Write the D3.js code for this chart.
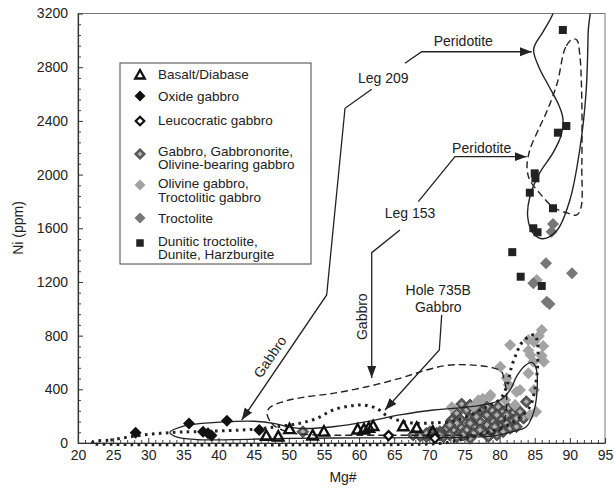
<!DOCTYPE html>
<html><head><meta charset="utf-8">
<script src="https://cdn.jsdelivr.net/npm/d3@7"></script>
<style>
body{margin:0;background:#fff}
text{font-family:"Liberation Sans",Arial,Helvetica,sans-serif;fill:#222}
</style></head>
<body><svg id="c" width="614" height="488"></svg>
<script>
// ---------- data ----------
const xTicks=[20,25,30,35,40,45,50,55,60,65,70,75,80,85,90,95];
const yTicks=[0,400,800,1200,1600,2000,2400,2800,3200];
const xLabel="Mg#", yLabel="Ni (ppm)";

const basalt=[[46.8,52],[48.5,47],[50.1,102],[53.4,55],[55.0,84],[59.8,100],[60.7,100],[61.4,112],[62.0,125],[66.3,124],[68.2,112],[70.5,84]];
const oxide=[[28.2,77],[35.8,146],[41.2,166],[37.8,84],[38.5,72],[39.0,55],[45.8,97]];
const leuco=[[64.2,55],[70.8,35]];
const gabbro=[[74.6,290],[75.3,246],[73.9,221],[73.2,171],[74.4,176],[75.8,184],[77.0,233],[77.7,258],[78.2,209],[78.9,246],
[79.8,270],[80.5,233],[81.2,258],[81.9,221],[82.9,233],[80.1,184],[79.1,159],[78.2,134],[77.2,159],[76.3,121],
[75.3,97],[74.4,121],[73.4,97],[72.5,109],[71.5,84],[72.0,47],[71.0,72],[70.1,84],[69.6,47],[74.8,60],
[76.3,72],[77.7,84],[78.9,97],[80.1,121],[81.0,147],[81.9,171],[81.5,109],[80.5,84],[79.6,60],[78.4,47],
[82.4,121],[83.4,184],[83.8,308],[73.9,147],[72.9,134],[75.8,147],[76.7,196],[79.6,209],[81.0,209],[77.2,97],
[73.9,47],[72.9,60],[75.8,35],[79.3,121],[82.4,184],[78.2,270],[75.8,283],[76.7,270],[67.7,60],[68.7,52],
[69.6,72],[71.5,60],[52.0,84]];
const olivineGabbro=[[81.5,730],[84.1,767],[85.6,797],[86.0,842],[86.2,723],[84.9,755],[84.4,656],[84.8,606],[86.3,606],[86.0,650],
[80.1,568],[81.0,482],[84.1,519],[81.3,432],[82.9,395],[82.4,382],[84.9,395],[78.7,358],[77.6,330],[77.0,318],
[73.2,266],[84.3,209],[85.2,233],[80.8,320],[82.2,283],[76.3,270],[85.3,1214],[84.1,690],[78.6,345],[76.5,283]];
const troctolite=[[87.6,1632],[87.4,1574],[86.6,1339],[90.3,1264],[84.8,1190],[86.7,1053],[87.1,1036]];
const dunite=[[89.0,3077],[89.5,2362],[88.3,2312],[85.0,2009],[85.1,1972],[84.3,1865],[87.6,1749],[84.8,1600],[85.4,1570],[81.8,1422],[83.0,1239],[86.0,1170]];

// field outlines (data units)
const leg209Peridotite=[[88.5,3400],[87.6,3200],[86.2,3065],[84.85,2935],[85.6,2800],[87.0,2660],[88.4,2520],[89.0,2420],[88.8,2300],[87.6,2161],[85.7,2012],[84.3,1833],[84.0,1684],[84.75,1565],[86.2,1522],[88.2,1587],[90.0,1810],[91.4,2183],[92.3,2608],[92.6,3054],[92.7,3400]];
const leg153Peridotite=[[90.4,3010],[89.4,2950],[88.2,2682],[86.8,2480],[85.7,2354],[84.3,2183],[83.9,2056],[84.3,1959],[85.7,1862],[87.6,1758],[89.6,1714],[91.0,1699],[91.6,1758],[91.7,2056],[91.7,2555],[91.4,2900],[91.0,3002]];
const hole735B=[[33.1,80],[35,125],[38,148],[42,160],[45,162],[48,145],[50.5,115],[52.5,108],[56.3,121],[61.1,159],[65.8,209],[70.6,246],[73,256],[77.2,280],[80.1,320],[81.5,395],[82.4,494],[83.6,575],[84.6,600],[85.2,555],[85.3,370],[84.8,221],[83.8,121],[81.9,85],[79,52],[75,44],[70,40],[60,38],[50,35],[42,25],[37,25],[34,45]];
const leg153Gabbro=[[46.9,221],[47.5,150],[48.5,110],[50,80],[53,62],[60,58],[70,58],[76,60],[79.5,75],[80.6,150],[81,370],[80.6,480],[80.3,531],[79.1,560],[75.3,583],[72.5,578],[69.6,544],[65.8,482],[61.1,419],[56.3,370],[52,340],[49.2,308],[47.3,265]];
const leg209Gabbro=[[22.2,10],[24.6,22],[26.9,42],[29.3,60],[31.7,72],[34,80],[36.4,84],[41.2,92],[45,102],[48.3,121],[51.6,147],[54,184],[56.3,246],[58.7,276],[60.6,283],[62.5,258],[63.9,205],[65.8,166],[68.2,147],[70.5,150],[72.9,159],[75.3,196],[78.2,270],[80.1,330],[81.0,419],[81.7,568],[82.4,668],[83.1,743],[84.1,790],[85.0,805],[85.4,743],[85.4,568],[85.0,395],[84.3,270],[82.4,171],[80.1,109],[77.7,72],[75.3,35],[72,0],[65,-12],[50,-14],[35,-14],[25,-10],[22,-3]];

// annotation leaders (data units)
const leaders=[
 {pts:[[66.53,2829],[68.91,2915],[84.57,2915]],arrow:true},
 {pts:[[61.80,2635],[58.0,2494],[55.39,1103],[43.3,171]],arrow:true},
 {pts:[[68.43,1798],[73.65,2133],[83.85,2133]],arrow:true},
 {pts:[[65.82,1587],[61.8,1418],[61.8,484]],arrow:true},
 {pts:[[71.76,954],[71.42,693],[63.69,246]],arrow:true}
];
const notes=[
 {t:"Leg 209",x:63.45,y:2717,r:0},
 {t:"Peridotite",x:74.83,y:2997,r:0},
 {t:"Gabbro",x:47.32,y:641,r:-56},
 {t:"Leg 153",x:67.25,y:1711,r:0},
 {t:"Peridotite",x:77.45,y:2196,r:0},
 {t:"Gabbro",x:60.37,y:941,r:-90},
 {t:"Hole 735B",x:71.27,y:1140,r:0},
 {t:"Gabbro",x:71.27,y:1015,r:0}
];
const legendLabels=[["Basalt/Diabase"],["Oxide gabbro"],["Leucocratic gabbro"],["Gabbro, Gabbronorite,","Olivine-bearing gabbro"],["Olivine gabbro,","Troctolitic gabbro"],["Troctolite"],["Dunitic troctolite,","Dunite, Harzburgite"]];

// ---------- drawing ----------
const svg=d3.select("#c");
const x=d3.scaleLinear().domain([20,95]).range([78,605]);
const y=d3.scaleLinear().domain([0,3200]).range([443,13.5]);

const defs=svg.append("defs");
defs.append("clipPath").attr("id","clip").append("rect")
 .attr("x",x(20)).attr("y",y(3200)).attr("width",x(95)-x(20)).attr("height",y(0)-y(3200)+10);
defs.append("marker").attr("id","ah").attr("viewBox","0 -5 12 10").attr("refX",12).attr("refY",0)
 .attr("markerWidth",12).attr("markerHeight",10).attr("markerUnits","userSpaceOnUse").attr("orient","auto")
 .append("path").attr("d","M0,-4.5L12,0L0,4.5Z").attr("fill","#222");

// frame
svg.append("rect").attr("x",x(20)).attr("y",y(3200)).attr("width",x(95)-x(20)).attr("height",y(0)-y(3200))
 .attr("fill","none").attr("stroke","#777").attr("stroke-width",1);

// minor ticks
const xMinor=d3.range(21,95,1).filter(v=>v%5!==0);
const yMinor=d3.range(80,3200,80).filter(v=>v%400!==0);
svg.append("g").attr("transform",`translate(0,${y(0)})`)
 .call(d3.axisBottom(x).tickValues(xMinor).tickSize(-3).tickFormat(""))
 .call(g=>{g.select(".domain").remove();g.selectAll("line").attr("stroke","#444");});
svg.append("g").attr("transform",`translate(${x(20)},0)`)
 .call(d3.axisLeft(y).tickValues(yMinor).tickSize(-3).tickFormat(""))
 .call(g=>{g.select(".domain").remove();g.selectAll("line").attr("stroke","#444");});
// major axes
const gx=svg.append("g").attr("transform",`translate(0,${y(0)})`)
 .call(d3.axisBottom(x).tickValues(xTicks).tickSize(-5).tickSizeOuter(0).tickPadding(7).tickFormat(d3.format("d")));
const gy=svg.append("g").attr("transform",`translate(${x(20)},0)`)
 .call(d3.axisLeft(y).tickValues(yTicks).tickSize(-5).tickSizeOuter(0).tickPadding(10).tickFormat(d3.format("d")));
[gx,gy].forEach(g=>{g.selectAll("text").attr("font-size",14).attr("font-family","Liberation Sans, Arial, sans-serif").attr("fill","#222");
 g.select(".domain").attr("stroke","#333").attr("stroke-width",1.2);g.selectAll("line").attr("stroke","#333");});

svg.append("text").attr("x",343).attr("y",482).attr("text-anchor","middle").attr("font-size",14).text(xLabel);
svg.append("text").attr("transform","translate(23,228) rotate(-90)").attr("text-anchor","middle").attr("font-size",14).text(yLabel);

// symbols
const diamond=r=>`M0,${-r}L${r},0L0,${r}L${-r},0Z`;
const tri=r=>`M0,${-r}L${r*0.95},${r*0.7}L${-r*0.95},${r*0.7}Z`;
const sq=s=>`M${-s/2},${-s/2}h${s}v${s}h${-s}Z`;

function drawGabbro(g,px,py,r){
 g.append("path").attr("transform",`translate(${px},${py})`).attr("d",diamond(r)).attr("fill","#595959").attr("stroke","#333").attr("stroke-width",0.8);
 g.append("path").attr("transform",`translate(${px},${py})`).attr("d",diamond(r*0.45)).attr("fill","#b0b0b0");
}
const pts=svg.append("g");
gabbro.forEach(d=>drawGabbro(pts,x(d[0]),y(d[1]),6));
pts.selectAll(".og").data(olivineGabbro).join("path").attr("transform",d=>`translate(${x(d[0])},${y(d[1])})`)
 .attr("d",diamond(6)).attr("fill","#a3a3a3");
pts.selectAll(".tr").data(troctolite).join("path").attr("transform",d=>`translate(${x(d[0])},${y(d[1])})`)
 .attr("d",diamond(6)).attr("fill","#777");
pts.selectAll(".du").data(dunite).join("path").attr("transform",d=>`translate(${x(d[0])},${y(d[1])})`)
 .attr("d",sq(8)).attr("fill","#222");

// fields
const fg=svg.append("g").attr("clip-path","url(#clip)").attr("fill","none").attr("stroke","#222");
const closed=d3.line().x(d=>x(d[0])).y(d=>y(d[1])).curve(d3.curveCatmullRomClosed.alpha(0.5));
fg.append("path").attr("d",closed(leg209Peridotite)).attr("stroke-width",1.4);
fg.append("path").attr("d",closed(leg153Peridotite)).attr("stroke-width",1.4).attr("stroke-dasharray","7,4");
fg.append("path").attr("d",closed(hole735B)).attr("stroke-width",1.3);
fg.append("path").attr("d",closed(leg153Gabbro)).attr("stroke-width",1.4).attr("stroke-dasharray","7,4");
fg.append("path").attr("d",closed(leg209Gabbro)).attr("stroke-width",3).attr("stroke-dasharray","2.6,4.4");

// overlying markers
const pts2=svg.append("g");
pts2.selectAll(".ba").data(basalt).join("path").attr("transform",d=>`translate(${x(d[0])},${y(d[1])})`)
 .attr("d",tri(5.5)).attr("fill","none").attr("stroke","#111").attr("stroke-width",2.4).attr("stroke-linejoin","miter");
pts2.selectAll(".ox").data(oxide).join("path").attr("transform",d=>`translate(${x(d[0])},${y(d[1])})`)
 .attr("d",diamond(6)).attr("fill","#111");
pts2.selectAll(".le").data(leuco).join("path").attr("transform",d=>`translate(${x(d[0])},${y(d[1])})`)
 .attr("d",diamond(4.5)).attr("fill","#fff").attr("stroke","#111").attr("stroke-width",2.2);

// annotations
const ln=d3.line().x(d=>x(d[0])).y(d=>y(d[1]));
const ag=svg.append("g");
leaders.forEach(L=>{ag.append("path").attr("d",ln(L.pts)).attr("fill","none").attr("stroke","#222").attr("stroke-width",1.3)
 .attr("marker-end",L.arrow?"url(#ah)":null);});
notes.forEach(n=>{ag.append("text").attr("transform",`translate(${x(n.x)},${y(n.y)}) rotate(${n.r})`)
 .attr("text-anchor","middle").attr("dy","0.35em").attr("font-size",14).text(n.t);});

// legend
const lg=svg.append("g");
lg.append("rect").attr("x",120).attr("y",63).attr("width",191).attr("height",201).attr("fill","#fff").attr("stroke","#444").attr("stroke-width",1);
const rowY=[74,96,121,154,185,218,243];
const lx=140;
lg.append("path").attr("transform",`translate(${lx},${rowY[0]+1})`).attr("d",tri(5)).attr("fill","none").attr("stroke","#111").attr("stroke-width",2.3);
lg.append("path").attr("transform",`translate(${lx},${rowY[1]})`).attr("d",diamond(5.5)).attr("fill","#111");
lg.append("path").attr("transform",`translate(${lx},${rowY[2]})`).attr("d",diamond(4.3)).attr("fill","#fff").attr("stroke","#111").attr("stroke-width",2.2);
drawGabbro(lg,lx,rowY[3],5.5);
lg.append("path").attr("transform",`translate(${lx},${rowY[4]})`).attr("d",diamond(5.5)).attr("fill","#a3a3a3");
lg.append("path").attr("transform",`translate(${lx},${rowY[5]})`).attr("d",diamond(5.5)).attr("fill","#777");
lg.append("path").attr("transform",`translate(${lx},${rowY[6]})`).attr("d",sq(7.5)).attr("fill","#222");
const textTop=[74,96,120.7,151.2,183.5,218.3,241.2];
legendLabels.forEach((lines,i)=>{
 lines.forEach((t,j)=>{lg.append("text").attr("x",158).attr("y",textTop[i]+j*13.5).attr("dy","0.35em").attr("font-size",13.5).text(t);});
});
</script></body></html>
